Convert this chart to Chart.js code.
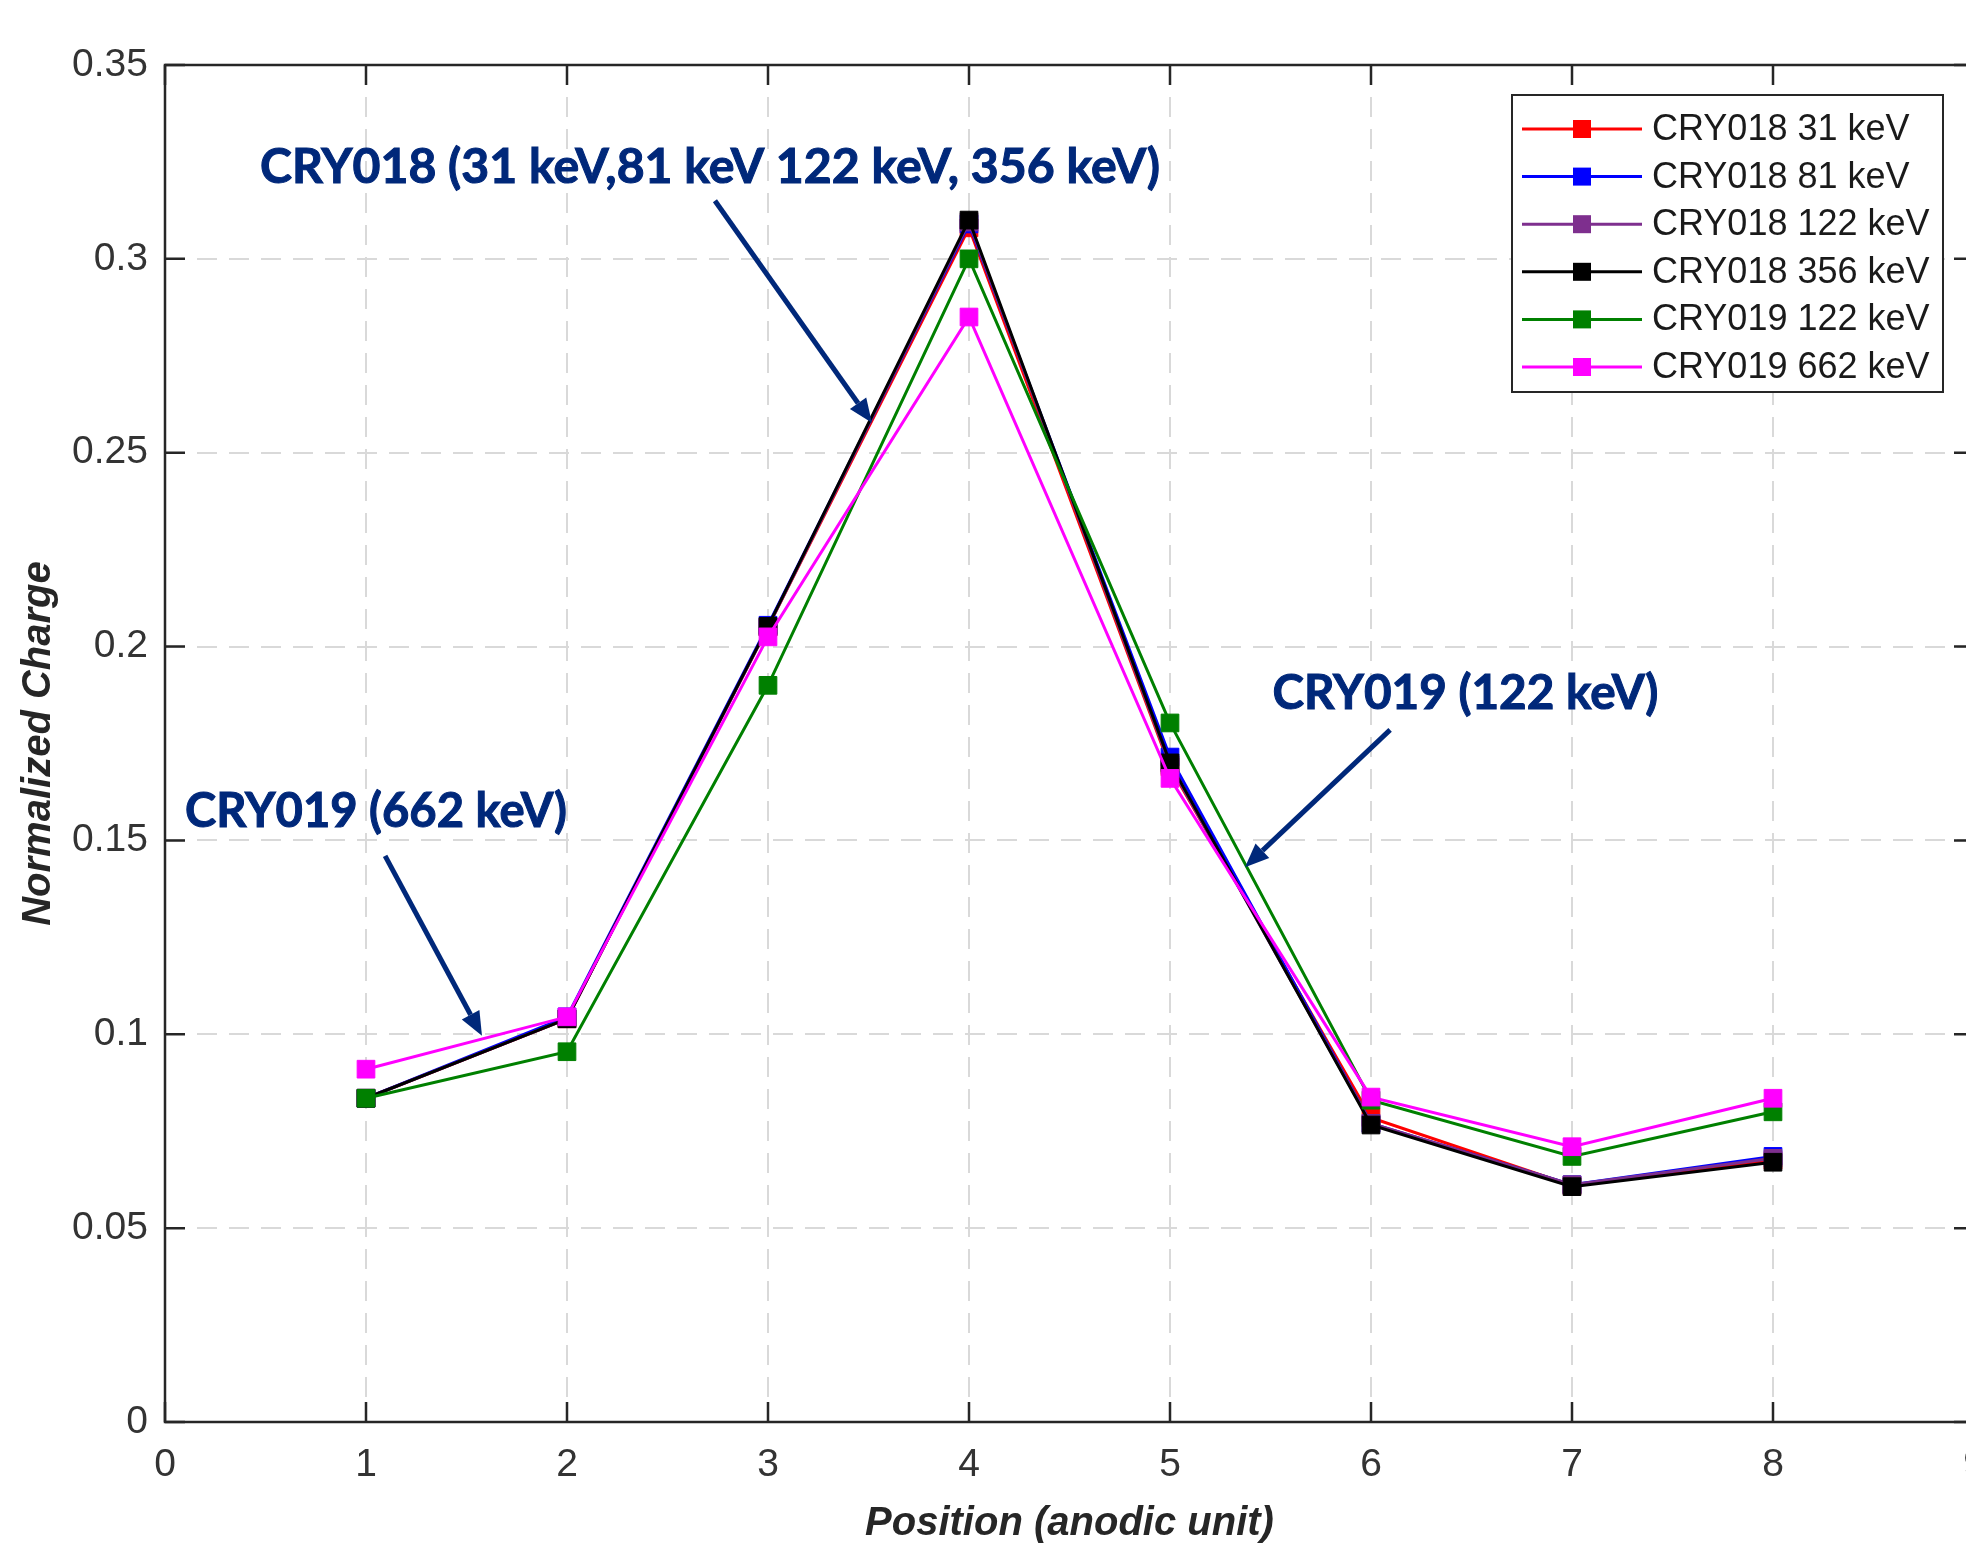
<!DOCTYPE html>
<html lang="en">
<head>
<meta charset="UTF-8">
<title>Normalized Charge vs Position</title>
<script src="https://cdn.jsdelivr.net/npm/chart.js"></script>
<style>
  html, body { margin: 0; padding: 0; background: #fff; overflow: hidden; }
  #wrap { width: 2100px; height: 1544px; }
</style>
</head>
<body>
<div id="wrap"><canvas id="chargeChart" width="2100" height="1544"></canvas></div>
<script>
// values
const positions = [1, 2, 3, 4, 5, 6, 7, 8];
const seriesNames = ['CRY018 31 keV', 'CRY018 81 keV', 'CRY018 122 keV', 'CRY018 356 keV', 'CRY019 122 keV', 'CRY019 662 keV'];
const cry018_31 = [0.0835, 0.1040, 0.2050, 0.3080, 0.1690, 0.0785, 0.0610, 0.0675];
const cry018_81 = [0.0835, 0.1045, 0.2055, 0.3090, 0.1715, 0.0770, 0.0612, 0.0685];
const cry018_122 = [0.0835, 0.1040, 0.2050, 0.3095, 0.1695, 0.0770, 0.0612, 0.0680];
const cry018_356 = [0.0835, 0.1040, 0.2052, 0.3100, 0.1700, 0.0766, 0.0607, 0.0670];
const cry019_122 = [0.0835, 0.0955, 0.1900, 0.3000, 0.1803, 0.0830, 0.0685, 0.0800];
const cry019_662 = [0.0910, 0.1045, 0.2025, 0.2850, 0.1660, 0.0838, 0.0710, 0.0835];
const xTicks = [0, 1, 2, 3, 4, 5, 6, 7, 8, 9];
const yTicks = [0, 0.05, 0.1, 0.15, 0.2, 0.25, 0.3, 0.35];
const yTickLabels = ['0', '0.05', '0.1', '0.15', '0.2', '0.25', '0.3', '0.35'];

const allSeries = [cry018_31, cry018_81, cry018_122, cry018_356, cry019_122, cry019_662];
const colors = ['#ff0000', '#0000ff', '#7e2f8e', '#000000', '#008000', '#ff00ff'];
const axisColor = '#262626';
const labelColor = '#333333';
const noteColor = '#00287a';

const datasets = allSeries.map((vals, i) => ({
  label: seriesNames[i],
  data: vals.map((v, j) => ({ x: positions[j], y: v })),
  borderColor: colors[i],
  backgroundColor: colors[i],
  borderWidth: 3,
  pointStyle: 'rect',
  pointRadius: 12.5,
  pointBorderWidth: 1,
  pointBorderColor: colors[i],
  tension: 0,
  order: allSeries.length - 1 - i   // later series on top, like matlab
}));

// text + arrows, anchored in data units
const notes = [
  { text: 'CRY018 (31 keV,81 keV 122 keV, 356 keV)', x0: 0.473, x1: 4.95, y: 0.3196, from: [2.736, 0.315], to: [3.517, 0.2577] },
  { text: 'CRY019 (662 keV)', x0: 0.10, x1: 2.0, y: 0.1535, from: [1.095, 0.146], to: [1.577, 0.0996] },
  { text: 'CRY019 (122 keV)', x0: 5.51, x1: 7.43, y: 0.184, from: [6.095, 0.1785], to: [5.373, 0.1431] }
];

const frameAndTicks = {
  id: 'frameAndTicks',
  afterDatasetsDraw(chart) {
    const { ctx, chartArea: a, scales: { x, y } } = chart;
    ctx.save();
    ctx.strokeStyle = axisColor;
    ctx.lineWidth = 2.5;
    ctx.strokeRect(a.left, a.top, a.right - a.left, a.bottom - a.top);
    const tl = 20;
    ctx.beginPath();
    xTicks.forEach(t => {
      const px = x.getPixelForValue(t);
      ctx.moveTo(px, a.bottom); ctx.lineTo(px, a.bottom - tl);
      ctx.moveTo(px, a.top); ctx.lineTo(px, a.top + tl);
    });
    yTicks.forEach(t => {
      const py = y.getPixelForValue(t);
      ctx.moveTo(a.left, py); ctx.lineTo(a.left + tl, py);
      ctx.moveTo(a.right, py); ctx.lineTo(a.right - tl, py);
    });
    ctx.stroke();
    ctx.restore();
  }
};

const notesPlugin = {
  id: 'notes',
  afterDatasetsDraw(chart) {
    const { ctx, scales: { x, y } } = chart;
    ctx.save();
    ctx.fillStyle = noteColor;
    ctx.strokeStyle = noteColor;
    ctx.font = 'bold 47px Lato';
    ctx.textBaseline = 'alphabetic';
    notes.forEach(n => {
      const left = x.getPixelForValue(n.x0);
      const w = x.getPixelForValue(n.x1) - left;
      const sx = w / ctx.measureText(n.text).width;
      ctx.save();
      ctx.translate(left, y.getPixelForValue(n.y));
      ctx.scale(sx, 1);
      ctx.lineWidth = 1;
      ctx.fillText(n.text, 0, 0);
      ctx.strokeText(n.text, 0, 0);   // a little heavier, closer to the calibri bold
      ctx.restore();

      const x1 = x.getPixelForValue(n.from[0]), y1 = y.getPixelForValue(n.from[1]);
      const x2 = x.getPixelForValue(n.to[0]), y2 = y.getPixelForValue(n.to[1]);
      const ang = Math.atan2(y2 - y1, x2 - x1);
      const head = 24, half = 10;
      const bx = x2 - head * Math.cos(ang), by = y2 - head * Math.sin(ang);
      ctx.lineWidth = 5;
      ctx.beginPath();
      ctx.moveTo(x1, y1); ctx.lineTo(bx, by);
      ctx.stroke();
      ctx.beginPath();
      ctx.moveTo(x2, y2);
      ctx.lineTo(bx + half * Math.sin(ang), by - half * Math.cos(ang));
      ctx.lineTo(bx - half * Math.sin(ang), by + half * Math.cos(ang));
      ctx.closePath();
      ctx.fill();
    });
    ctx.restore();
  }
};

// matlab style legend box in the top right corner
const boxLegend = {
  id: 'boxLegend',
  afterDraw(chart) {
    const { ctx, chartArea: a } = chart;
    const w = 431, h = 297;
    const left = a.right - 31 - w, top = a.top + 30;
    ctx.save();
    ctx.fillStyle = '#fff';
    ctx.fillRect(left, top, w, h);
    ctx.strokeStyle = axisColor;
    ctx.lineWidth = 2;
    ctx.strokeRect(left, top, w, h);
    ctx.font = '36px "Liberation Sans", Arial, sans-serif';
    ctx.textBaseline = 'middle';
    chart.data.datasets.forEach((ds, i) => {
      const ry = top + 34 + i * 47.6;
      ctx.strokeStyle = ds.borderColor;
      ctx.lineWidth = 3;
      ctx.beginPath();
      ctx.moveTo(left + 10, ry); ctx.lineTo(left + 130, ry);
      ctx.stroke();
      ctx.fillStyle = ds.borderColor;
      ctx.fillRect(left + 61, ry - 9, 18, 18);
      ctx.fillStyle = '#1a1a1a';
      ctx.fillText(ds.label, left + 140, ry + 1);
    });
    ctx.restore();
  }
};

Chart.defaults.font.family = '"Liberation Sans", Arial, sans-serif';
Chart.defaults.color = axisColor;

new Chart(document.getElementById('chargeChart').getContext('2d'), {
  type: 'line',
  data: { datasets },
  options: {
    responsive: false,
    animation: false,
    devicePixelRatio: 1,
    layout: { padding: { top: 65, right: 126, left: 0, bottom: 0 } },
    plugins: {
      legend: { display: false },
      tooltip: { enabled: false }
    },
    scales: {
      x: {
        type: 'linear',
        min: 0,
        max: 9,
        afterBuildTicks: s => { s.ticks = xTicks.map(v => ({ value: v })); },
        afterFit: s => { s.height = 122; },
        ticks: { font: { size: 39 }, color: labelColor, padding: 20, maxRotation: 0, callback: v => String(v) },
        grid: { color: '#d9d9d9', lineWidth: 2, drawTicks: false },
        border: { display: false, dash: [20, 12] },
        title: {
          display: true,
          text: 'Position (anodic unit)',
          color: axisColor,
          font: { size: 40, weight: 'bold', style: 'italic', lineHeight: 1 },
          padding: { top: 0, bottom: 0 }
        }
      },
      y: {
        type: 'linear',
        min: 0,
        max: 0.35,
        afterBuildTicks: s => { s.ticks = yTicks.map(v => ({ value: v })); },
        afterFit: s => { s.width = 165; },
        ticks: {
          font: { size: 39 }, color: labelColor, padding: 17,
          callback: v => yTickLabels[yTicks.findIndex(t => Math.abs(t - v) < 1e-9)]
        },
        grid: { color: '#d9d9d9', lineWidth: 2, drawTicks: false },
        border: { display: false, dash: [20, 12] },
        title: {
          display: true,
          text: 'Normalized Charge',
          color: axisColor,
          font: { size: 40, weight: 'bold', style: 'italic' },
          padding: { top: 15, bottom: 0 }
        }
      }
    }
  },
  plugins: [frameAndTicks, notesPlugin, boxLegend]
});
</script>
</body>
</html>
